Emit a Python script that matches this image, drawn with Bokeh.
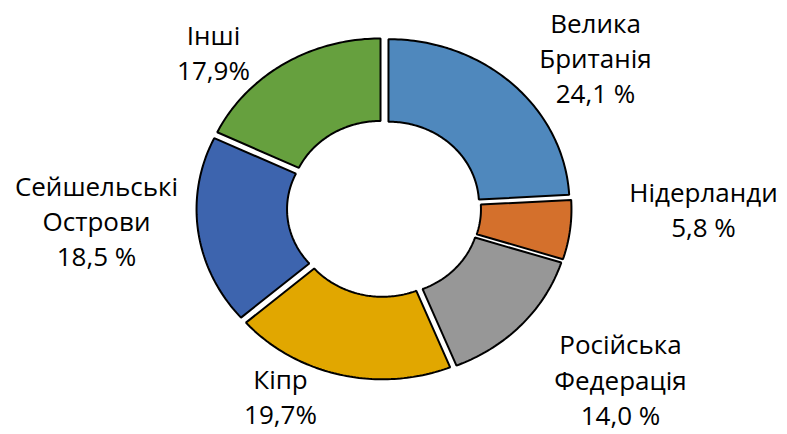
import math
from bokeh.plotting import figure
from bokeh.models import Range1d, ColumnDataSource
from bokeh.embed import file_html
from bokeh.resources import INLINE
from bokeh.core.properties import value

# ---- data ----
categories = ["Велика Британія", "Нідерланди", "Російська Федерація",
              "Кіпр", "Сейшельські Острови", "Інші"]
shares = [24.1, 5.8, 14.0, 19.7, 18.5, 17.9]
value_labels = ["24,1 %", "5,8 %", "14,0 %", "19,7%", "18,5 %", "17,9%"]
name_lines = [["Велика", "Британія"], ["Нідерланди"], ["Російська", "Федерація"],
              ["Кіпр"], ["Сейшельські", "Острови"], ["Інші"]]

# ---- style / layout ----
colors = ["#4F88BD", "#D4702C", "#979797", "#E1A700", "#3D64AE", "#66A03E"]
OUTER, INNER, EXPLODE = 1.0, 0.5, 0.036
# label block centres (data units)
label_pos = [(1.1685, 0.9121), (1.7652, -0.0061), (1.3066, -1.0378),
             (-0.5718, -1.1408), (-1.5884, -0.0758), (-0.9420, 0.9436)]
LINE_STEP = 0.214
FONT = "Open Sans"
FONT_SIZE = "26px"

W, H = 787, 434
CX, CY, SX, SY = 383.5, 208.0, 181.0, 165.0
p = figure(width=W, height=H, output_backend="svg", toolbar_location=None,
           x_range=Range1d(-CX / SX, (W - CX) / SX),
           y_range=Range1d((CY - H) / SY, CY / SY),
           x_axis_location=None, y_axis_location=None, min_border=0,
           outline_line_color=None, background_fill_color="white",
           border_fill_color="white")
p.grid.visible = False

total = sum(shares)
xs, ys = [], []
start = 0.0
for s in shares:
    a0 = start / total * 2 * math.pi
    a1 = (start + s) / total * 2 * math.pi
    mid = (a0 + a1) / 2
    ox, oy = EXPLODE * math.sin(mid), EXPLODE * math.cos(mid)
    n = max(8, int((a1 - a0) / (2 * math.pi) * 360))
    angs = [a0 + (a1 - a0) * k / n for k in range(n + 1)]
    px = [ox + OUTER * math.sin(a) for a in angs] + [ox + INNER * math.sin(a) for a in reversed(angs)]
    py = [oy + OUTER * math.cos(a) for a in angs] + [oy + INNER * math.cos(a) for a in reversed(angs)]
    xs.append(px)
    ys.append(py)
    start += s

src = ColumnDataSource(dict(xs=xs, ys=ys, color=colors, cat=categories))
p.patches("xs", "ys", source=src, fill_color="color", line_color="black", line_width=2)

tx, ty, tt = [], [], []
for (bx, by), lines, vl in zip(label_pos, name_lines, value_labels):
    all_lines = lines + [vl]
    n = len(all_lines)
    for i, t in enumerate(all_lines):
        tx.append(bx)
        ty.append(by + ((n - 1) / 2 - i) * LINE_STEP)
        tt.append(t)
p.text(x=tx, y=ty, text=tt, text_font=value(FONT), text_font_size=FONT_SIZE,
       text_align="center", text_baseline="middle", text_color="black")

open("out.html", "w").write(file_html(p, INLINE))
